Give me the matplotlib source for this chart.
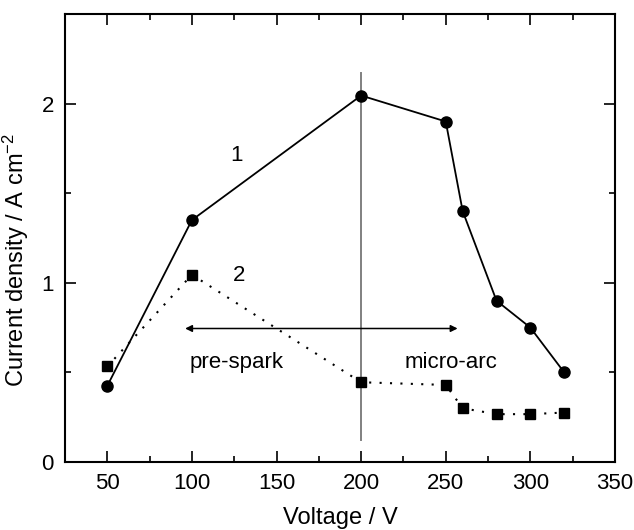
import matplotlib
matplotlib.use("Agg")
import matplotlib.pyplot as plt
from matplotlib.ticker import MultipleLocator

plt.rcParams['font.family'] = ['Liberation Sans', 'DejaVu Sans']
plt.rcParams['mathtext.default'] = 'regular'

voltage = [50, 100, 200, 250, 260, 280, 300, 320]
series1 = [0.425, 1.35, 2.045, 1.90, 1.40, 0.90, 0.75, 0.50]
series2 = [0.533, 1.045, 0.445, 0.43, 0.30, 0.267, 0.267, 0.276]

fig = plt.figure(figsize=(6.34, 5.30), dpi=100)
ax = fig.add_axes([0.1025, 0.1283, 0.8675, 0.8453])

ax.plot(voltage, series1, '-', color='black', lw=1.3, marker='o', ms=8, zorder=3)
ax.plot(voltage, series2, linestyle=(0, (1, 4)), color='black', lw=1.5,
        marker='s', ms=7, zorder=3)

ax.plot([200, 200], [0.12, 2.17], color='#808080', lw=1.4, zorder=2)
ax.annotate('', xy=(96, 0.745), xytext=(257, 0.745),
            arrowprops=dict(arrowstyle='<|-|>', color='black', lw=1.1,
                            mutation_scale=10, shrinkA=0, shrinkB=0))

ax.text(126.5, 1.71, '1', fontsize=16, ha='center', va='center')
ax.text(128, 1.04, '2', fontsize=16, ha='center', va='center')
ax.text(126.5, 0.555, 'pre-spark', fontsize=16, ha='center', va='center')
ax.text(253, 0.555, 'micro-arc', fontsize=16, ha='center', va='center')

ax.set_xlim(25, 350)
ax.set_ylim(0, 2.5)
ax.set_xticks([50, 100, 150, 200, 250, 300, 350])
ax.xaxis.set_minor_locator(MultipleLocator(25))
ax.set_yticks([0, 1, 2])
ax.yaxis.set_minor_locator(MultipleLocator(0.5))
ax.tick_params(which='both', direction='in', top=True, right=True, labelsize=16, width=1.2)
ax.tick_params(which='major', length=8, pad=8)
ax.tick_params(which='minor', length=4)
for s in ax.spines.values():
    s.set_linewidth(1.5)

ax.set_xlabel('Voltage / V', fontsize=17, labelpad=9)
ax.set_ylabel('Current density / A cm$^{\u22122}$', fontsize=17)
ax.yaxis.set_label_coords(-0.062, 0.45)

fig.savefig('out.png', dpi=100)
